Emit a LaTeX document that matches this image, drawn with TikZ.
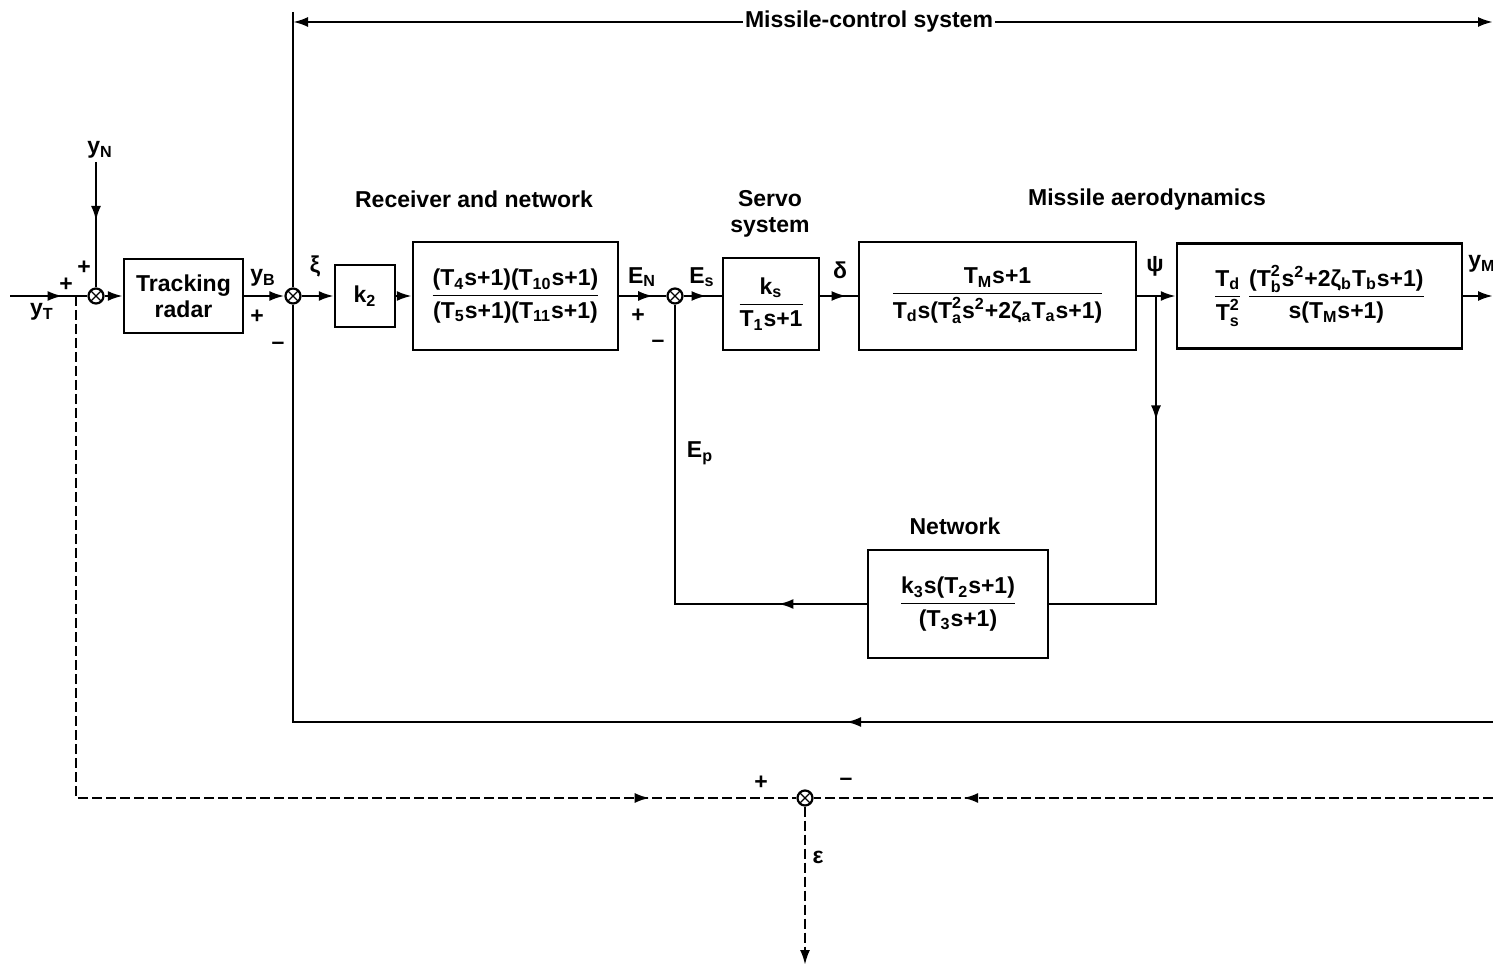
\documentclass[tikz,border=0pt]{standalone}
\usepackage{amsmath}
\usepackage{fontspec}
\setmainfont{Liberation Sans}
\usetikzlibrary{arrows.meta,decorations.markings}
\newcommand{\sub}[1]{\textsubscript{#1}}
\newcommand{\sups}[1]{\textsuperscript{#1}}
\newcommand{\Tsb}[2]{$\text{T}^{\text{#2}}_{\text{#1}}$}

\begin{document}
\begin{tikzpicture}[x=0.5pt,y=-0.5pt,
	every node/.style={font=\fontsize{11.5}{13}\selectfont\bfseries},
	blk/.style={draw,line width=1.2pt,inner sep=0pt,align=center},
	sumj/.style={draw,circle,line width=1.1pt,minimum size=7.5pt,inner sep=0pt,
		path picture={\draw[line width=0.6pt] (path picture bounding box.north west)--(path picture bounding box.south east) (path picture bounding box.north east)--(path picture bounding box.south west);}},
	wire/.style={line width=1.2pt},
	arr/.style={wire,-{Latex[length=7.5pt,width=5pt]}},
	midarr/.style={wire,postaction={decorate},decoration={markings,mark=at position #1 with {\arrow{Latex[length=7.5pt,width=5pt]}}}},
	dashline/.style={dash pattern=on 5pt off 2pt},
	lbl/.style={inner sep=1pt}
	]
	\useasboundingbox (0,0) rectangle (1493,967);

	% blocks
	\node[blk,minimum width=59.5pt,minimum height=37pt] (radar) at (183.5,296) {Tracking\\radar};
	\node[blk,minimum width=30pt,minimum height=31pt] (k2) at (365,296) {k\sub{2}};
	\node[blk,minimum width=102.5pt,minimum height=54pt] (recv) at (515.5,296)
		{$\dfrac{\text{(T\sub{4}s+1)(T\sub{10}s+1)}}{\text{(T\sub{5}s+1)(T\sub{11}s+1)}}$};
	\node[blk,minimum width=48pt,minimum height=46pt] (servo) at (771,304)
		{$\dfrac{\text{k\sub{s}}}{\text{T\sub{1}s+1}}$};
	\node[blk,minimum width=138.5pt,minimum height=54pt] (aero) at (997.5,296)
		{$\dfrac{\text{T\sub{M}s+1}}{\text{T\sub{d}s(\Tsb{a}{2}s\sups{2}+2ζ\sub{a}T\sub{a}s+1)}}$};
	\node[blk,minimum width=142.5pt,minimum height=52.5pt] (out) at (1319.5,296)
		{$\dfrac{\text{T\sub{d}}}{\text{\Tsb{s}{2}}}\,\dfrac{\text{(\Tsb{b}{2}s\sups{2}+2ζ\sub{b}T\sub{b}s+1)}}{\text{s(T\sub{M}s+1)}}$};
	\node[blk,minimum width=90pt,minimum height=54pt] (net) at (958,604)
		{$\dfrac{\text{k\sub{3}s(T\sub{2}s+1)}}{\text{(T\sub{3}s+1)}}$};

	% summing points
	\node[sumj] (j1) at (96,296) {};
	\node[sumj] (j2) at (293,296) {};
	\node[sumj] (j3) at (675,296) {};
	\node[sumj] (j4) at (805,798) {};

	% free ends
	\coordinate (yT) at (10,296);
	\coordinate (yN) at (96,162);
	\coordinate (tap) at (76,296);
	\coordinate (psi) at (1156,296);
	\coordinate (yM) at (1493,296);
	\coordinate (top) at (293,12);
	\coordinate (dimL) at (293,22);
	\coordinate (dimR) at (1493,22);
	\coordinate (fbR) at (1493,722);
	\coordinate (dR) at (1493,798);
	\coordinate (eps) at (805,965);

	% forward path
	\draw[midarr=0.68] (yT) -- (j1);
	\draw[midarr=0.47] (yN) -- (j1);
	\draw[arr] (j1) -- (radar);
	\draw[arr] (radar) -- (j2);
	\draw[arr] (j2) -- (k2);
	\draw[arr] (k2) -- (recv);
	\draw[midarr=0.72] (recv) -- (j3);
	\draw[midarr=0.6] (j3) -- (servo.west |- j3);
	\draw[midarr=0.7] (servo.east |- j3) -- (aero);
	\draw[arr] (aero) -- (out);
	\draw[arr] (out) -- (yM);

	% loops
	\draw[midarr=0.3] (psi) -- (psi |- net) -- (net);
	\draw[midarr=0.18] (net) -- (net -| j3) -- (j3);
	\draw[midarr=0.4] (fbR) -- (fbR -| j2) -- (j2);
	\draw[wire] (top) -- (j2);
	\draw[wire,{Latex[length=7.5pt,width=5pt]}-{Latex[length=7.5pt,width=5pt]}] (dimL) -- node[fill=white,inner sep=1pt,pos=0.48] {Missile-control system} (dimR);

	% error
	\draw[midarr=0.88,dashline] (tap) -- (tap |- j4) -- (j4);
	\draw[midarr=0.78,dashline] (dR) -- (j4);
	\draw[arr,dashline] (j4) -- (eps);

	% labels
	\node[lbl] at (42,312) {y\sub{T}};
	\node[lbl] at (66,285) {+};
	\node[lbl] at (84,268) {+};
	\node[lbl] at (100,150) {y\sub{N}};
	\node[lbl] at (263,278) {y\sub{B}};
	\node[lbl] at (257,317) {+};
	\node[lbl] at (278,346) {--};
	\node[lbl] at (315,266) {ξ};
	\node[lbl] at (642,277) {E\sub{N}};
	\node[lbl] at (638,316) {+};
	\node[lbl] at (658,344) {--};
	\node[lbl] at (702,277) {E\sub{s}};
	\node[lbl] at (840,270) {δ};
	\node[lbl] at (1155,266) {ψ};
	\node[lbl] at (1482,264) {y\sub{M}};
	\node[lbl] at (700,453) {E\sub{p}};
	\node[lbl] at (474,199) {Receiver and network};
	\node[lbl,align=center] at (770,214) {Servo\\system};
	\node[lbl] at (1147,200) {Missile aerodynamics};
	\node[lbl] at (955,526) {Network};
	\node[lbl] at (761,783) {+};
	\node[lbl] at (846,782) {--};
	\node[lbl] at (818,857) {ε};
\end{tikzpicture}
\end{document}
